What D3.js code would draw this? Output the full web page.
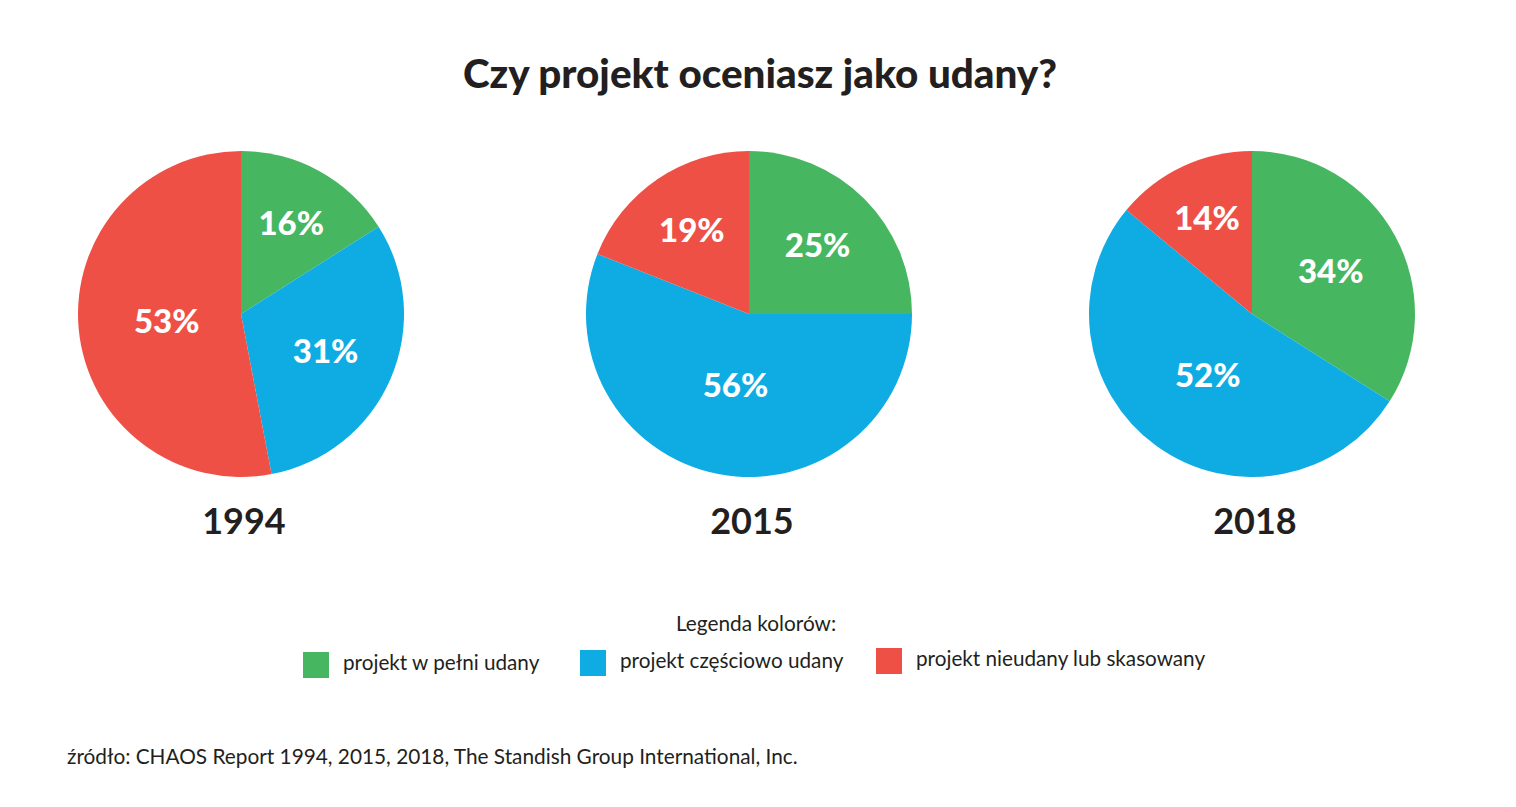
<!DOCTYPE html>
<html>
<head>
<meta charset="utf-8">
<script src="https://cdn.jsdelivr.net/npm/d3@7"></script>
<style>
  html, body { margin: 0; padding: 0; background: #ffffff; }
  svg { display: block; }
  text { font-family: Lato, "Open Sans", sans-serif; }
</style>
</head>
<body>
<svg id="chart" width="1516" height="807"></svg>
<script>
const title = "Czy projekt oceniasz jako udany?";
const years = ["1994", "2015", "2018"];
const categories = ["projekt w pełni udany", "projekt częściowo udany", "projekt nieudany lub skasowany"];
const colors = ["#47b660", "#0eace3", "#ef5046"];
const success = [16, 25, 34];
const challenged = [31, 56, 52];
const failed = [53, 19, 14];
const legendTitle = "Legenda kolorów:";
const source = "źródło: CHAOS Report 1994, 2015, 2018, The Standish Group International, Inc.";

const svg = d3.select("#chart");
const textColor = "#231f20";

svg.append("text")
  .attr("x", 760).attr("y", 88)
  .attr("text-anchor", "middle")
  .attr("font-size", 40.4).attr("font-weight", 900)
  .attr("fill", textColor)
  .text(title);

const centers = d3.scaleOrdinal().domain(years).range([241, 749, 1252]);
const R = 163;
const cy = 314;

const pie = d3.pie().sort(null).value(d => d.value);
const arc = d3.arc().innerRadius(0).outerRadius(R);

years.forEach((yr, i) => {
  const data = categories.map((c, k) => ({
    cat: c, color: colors[k],
    value: [success, challenged, failed][k][i]
  }));
  const g = svg.append("g").attr("transform", `translate(${centers(yr)},${cy})`);
  const arcs = pie(data);
  g.selectAll("path").data(arcs).enter().append("path")
    .attr("d", arc)
    .attr("fill", d => d.data.color);
  g.selectAll("text.lbl").data(arcs).enter().append("text")
    .attr("class", "lbl")
    .attr("transform", d => {
      const rl = 117 - 0.8 * d.data.value;
      const a = (d.startAngle + d.endAngle) / 2;
      return `translate(${Math.sin(a) * rl},${-Math.cos(a) * rl})`;
    })
    .attr("text-anchor", "middle")
    .attr("dy", "0.36em")
    .attr("font-size", 33).attr("font-weight", 900)
    .attr("fill", "#ffffff")
    .text(d => d.data.value + "%");
  svg.append("text")
    .attr("x", centers(yr) + 3).attr("y", 534)
    .attr("text-anchor", "middle")
    .attr("font-size", 36).attr("font-weight", 700)
    .attr("fill", textColor)
    .text(yr);
});

svg.append("text")
  .attr("x", 756).attr("y", 631)
  .attr("text-anchor", "middle")
  .attr("font-size", 20.8)
  .attr("fill", textColor)
  .text(legendTitle);

const legX = [303, 580, 876];
const legY = [652, 650, 648];
categories.forEach((c, k) => {
  svg.append("rect")
    .attr("x", legX[k]).attr("y", legY[k])
    .attr("width", 26).attr("height", 26)
    .attr("fill", colors[k]);
  svg.append("text")
    .attr("x", legX[k] + 40).attr("y", legY[k] + 18)
    .attr("font-size", 20.7)
    .attr("fill", textColor)
    .text(c);
});

svg.append("text")
  .attr("x", 67).attr("y", 764)
  .attr("font-size", 20.8)
  .attr("fill", textColor)
  .text(source);
</script>
</body>
</html>
